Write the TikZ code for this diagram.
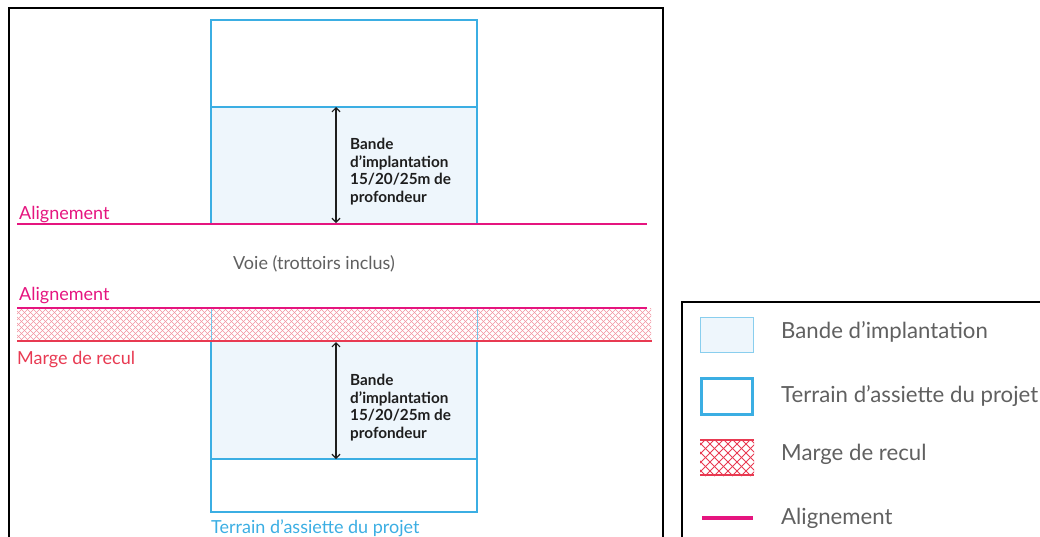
\documentclass[tikz,border=0pt]{standalone}
\usepackage{fontspec}
\setmainfont{Lato}
\usetikzlibrary{arrows.meta}
\definecolor{magen}{HTML}{E5157F}
\definecolor{rouge}{HTML}{E83A52}
\definecolor{bleu}{HTML}{3BAEE3}
\definecolor{bleuclair}{HTML}{EEF6FC}
\definecolor{gristxt}{HTML}{606060}
\definecolor{noirtxt}{HTML}{1E1E1E}
\tikzset{
  frame/.style={line width=2pt, black},
  terrain/.style={line width=2pt, draw=bleu},
  sep/.style={line width=1.4pt, draw=bleu},
  align line/.style={line width=2.2pt, draw=magen},
  recul line/.style={line width=2pt, draw=rouge},
  dimarrow/.style={line width=1.2pt, noirtxt, {Straight Barb[length=4pt,width=8pt]}-{Straight Barb[length=4pt,width=8pt]}},
  lbl/.style={inner sep=0pt, anchor=base west, font=\fontsize{18}{21}\selectfont},
  bande/.style={inner sep=0pt, anchor=north west, align=left, text=noirtxt, font=\bfseries\fontsize{15.3}{17.6}\selectfont},
  legtxt/.style={inner sep=0pt, anchor=west, text=gristxt, font=\fontsize{22.2}{26}\selectfont},
}
\begin{document}
\begin{tikzpicture}[x=1pt,y=-1pt]
\useasboundingbox (0,0) rectangle (1040,536);
% main frame
\draw[frame] (9,545) |- (663,8) -- (663,545);
% legend frame
\draw[frame] (682,545) |- (1045,302);

% ---- upper terrain
\fill[bleuclair] (211,107) rectangle (477,223);
\draw[terrain] (211,224) |- (477,20) -- (477,224);
\draw[sep] (211,107) -- (477,107);
\coordinate (a1) at (336,107);
\coordinate (a2) at (336,223);
\draw[dimarrow] (a1) -- (a2);
\node[bande] (t1) at (350,138) {Bande\\d’implantation\\15/20/25m de\\profondeur};
\draw[align line] (17,224) -- (647,224);
\node[lbl, text=magen] (al1) at (19,219) {Alignement};

% ---- voie
\node[inner sep=0pt, text=gristxt, font=\fontsize{18}{21}\selectfont] (voie) at (314,264) {Voie (trottoirs inclus)};

% ---- hatched band
\begin{scope}
\clip (17,308) rectangle (651,341);
\foreach \i in {-40,-34,...,660} {
  \draw[rouge!55, line width=0.5pt] (\i,341) -- ++(33,-33);
  \draw[rouge!55, line width=0.5pt] (\i,308) -- ++(33,33);
}
\end{scope}
\draw[bleu!70, line width=1pt] (211,308) -- (211,341);
\draw[bleu!70, line width=1pt] (477,308) -- (477,341);
\draw[align line] (17,308) -- (647,308);
\draw[recul line] (17,341) -- (652,341);
\node[lbl, text=magen] (al2) at (19,300) {Alignement};
\node[lbl, text=rouge] (mr) at (17,364) {Marge de recul};

% ---- lower terrain
\fill[bleuclair] (211,342) rectangle (477,459);
\draw[terrain] (211,342) |- (477,512) -- (477,342);
\draw[sep] (211,459) -- (477,459);
\coordinate (b1) at (336,342);
\coordinate (b2) at (336,459);
\draw[dimarrow] (b1) -- (b2);
\node[bande] (t2) at (350,374) {Bande\\d’implantation\\15/20/25m de\\profondeur};
\node[lbl, text=bleu] (ta) at (211,533) {Terrain d’assiette du projet};

% ---- legend
\draw[fill=bleuclair, draw=bleu!60, line width=1pt] (700,317) rectangle (753,352);
\node[legtxt] (l1) at (781,332) {Bande d’implantation};
\draw[draw=bleu, line width=3pt] (701.5,378.5) rectangle (752.5,414.5);
\node[legtxt] (l2) at (781,396) {Terrain d’assiette du projet};
\begin{scope}
\clip (700,439) rectangle (754,476);
\foreach \i in {660,669,...,760} {
  \draw[rouge, line width=0.9pt] (\i,476) -- ++(37,-37);
  \draw[rouge, line width=0.9pt] (\i,439) -- ++(37,37);
}
\end{scope}
\draw[recul line] (700,440) -- (754,440);
\draw[recul line] (700,475) -- (754,475);
\node[legtxt] (l3) at (781,454) {Marge de recul};
\draw[magen, line width=4pt] (702,518) -- (753,518);
\node[legtxt] (l4) at (781,518) {Alignement};
\end{tikzpicture}
\end{document}
